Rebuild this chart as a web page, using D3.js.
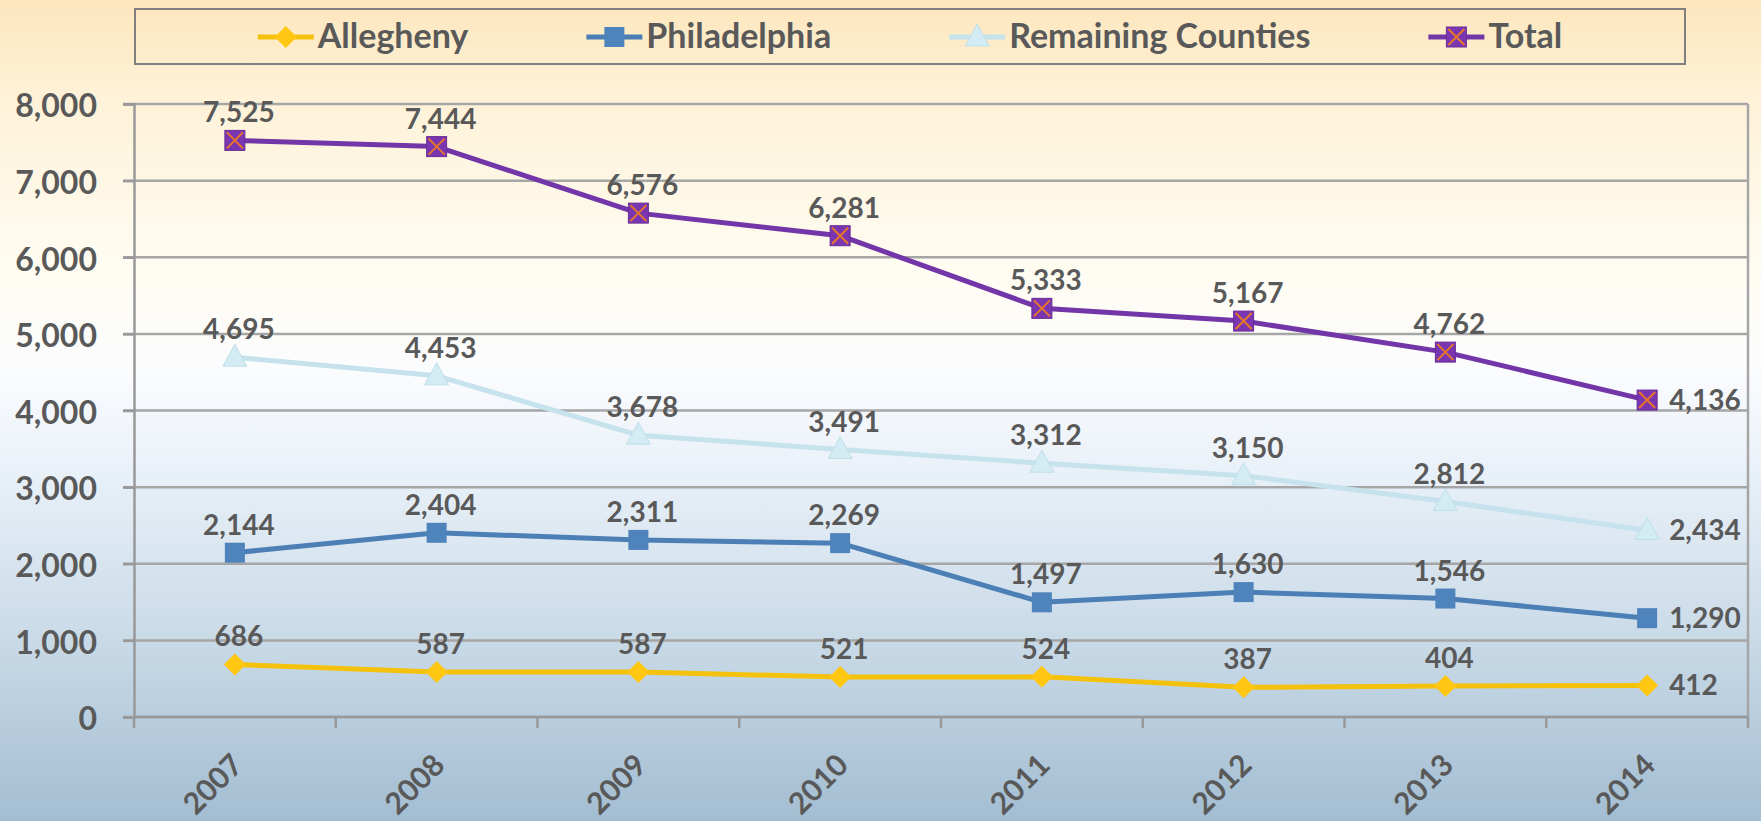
<html>
<head>
<script src="https://cdn.jsdelivr.net/npm/d3@7"></script>
<style>
  body { margin: 0; overflow: hidden; }
  text { font-family: Lato, "Open Sans", sans-serif; font-weight: 700; fill: #595959; }
</style>
</head>
<body>
<script>
// chart data
var years = ["2007", "2008", "2009", "2010", "2011", "2012", "2013", "2014"];
var allegheny = [686, 587, 587, 521, 524, 387, 404, 412];
var philadelphia = [2144, 2404, 2311, 2269, 1497, 1630, 1546, 1290];
var remaining = [4695, 4453, 3678, 3491, 3312, 3150, 2812, 2434];
var total = [7525, 7444, 6576, 6281, 5333, 5167, 4762, 4136];
var yTicks = [0, 1000, 2000, 3000, 4000, 5000, 6000, 7000, 8000];

var seriesNames = ["Allegheny", "Philadelphia", "Remaining Counties", "Total"];

var width = 1761, height = 821;

var svg = d3.select("body").append("svg")
    .attr("width", width)
    .attr("height", height);

// background gradient, cream at the top going to steel blue at the bottom
var defs = svg.append("defs");
var grad = defs.append("linearGradient")
    .attr("id", "bg")
    .attr("x1", 0).attr("y1", 0).attr("x2", 0).attr("y2", 1);
grad.append("stop").attr("offset", "0%").attr("stop-color", "#fde6bd");
grad.append("stop").attr("offset", "12%").attr("stop-color", "#fef2d8");
grad.append("stop").attr("offset", "33%").attr("stop-color", "#fffcf2");
grad.append("stop").attr("offset", "45%").attr("stop-color", "#fbfcfe");
grad.append("stop").attr("offset", "58%").attr("stop-color", "#e8f0f8");
grad.append("stop").attr("offset", "78%").attr("stop-color", "#c9dae7");
grad.append("stop").attr("offset", "100%").attr("stop-color", "#a3bdd2");

svg.append("rect")
    .attr("width", width)
    .attr("height", height)
    .attr("fill", "url(#bg)");

// plot area
var plotLeft = 134, plotRight = 1748, plotTop = 104, plotBottom = 717;

var x = d3.scaleBand().domain(years).range([plotLeft, plotRight]);
var y = d3.scaleLinear().domain([0, 8000]).range([plotBottom, plotTop]);
var cx = function(yr) { return x(yr) + x.bandwidth() / 2; };

// horizontal gridlines
svg.append("g")
    .selectAll("line")
    .data(yTicks)
    .enter().append("line")
    .attr("x1", plotLeft - 11)
    .attr("x2", plotRight)
    .attr("y1", function(d) { return y(d); })
    .attr("y2", function(d) { return y(d); })
    .attr("stroke", "#a6a6a6")
    .attr("stroke-width", 2.5);

// right border of the plot area
svg.append("line")
    .attr("x1", plotRight).attr("x2", plotRight)
    .attr("y1", plotTop).attr("y2", plotBottom)
    .attr("stroke", "#a6a6a6")
    .attr("stroke-width", 2.5);

// y axis
var yAxis = svg.append("g")
    .attr("transform", "translate(" + plotLeft + ",0)")
    .call(d3.axisLeft(y).tickValues(yTicks).tickSize(11).tickPadding(26)
        .tickFormat(d3.format(",")));
yAxis.selectAll("path, line").attr("stroke", "#999999").attr("stroke-width", 2.5);
yAxis.selectAll("text")
    .attr("font-size", 32)
    .attr("dy", "0.4em")
    .attr("fill", "#595959")
    .attr("font-family", "Lato, 'Open Sans', sans-serif")
    .attr("font-weight", 700);

// x axis: ticks sit between the categories
var xAxis = svg.append("g")
    .attr("transform", "translate(0," + plotBottom + ")");
xAxis.append("line")
    .attr("x1", plotLeft).attr("x2", plotRight)
    .attr("stroke", "#999999").attr("stroke-width", 2.5);
xAxis.selectAll(".tk")
    .data(years.concat(["end"]))
    .enter().append("line")
    .attr("class", "tk")
    .attr("x1", function(d, i) { return plotLeft + i * x.bandwidth(); })
    .attr("x2", function(d, i) { return plotLeft + i * x.bandwidth(); })
    .attr("y1", 0).attr("y2", 11)
    .attr("stroke", "#999999").attr("stroke-width", 2.5);
xAxis.selectAll(".yl")
    .data(years)
    .enter().append("text")
    .attr("class", "yl")
    .attr("text-anchor", "end")
    .attr("font-size", 30)
    .attr("transform", function(d) {
        return "translate(" + (cx(d) + 10) + ",50) rotate(-45)";
    })
    .text(function(d) { return d; });

// series styles
var series = [
    { name: seriesNames[0], values: allegheny, color: "#f4c20d", fill: "#ffc711", shape: "diamond" },
    { name: seriesNames[1], values: philadelphia, color: "#4b7fb6", fill: "#4f83bb", shape: "square" },
    { name: seriesNames[2], values: remaining, color: "#c6e2ec", fill: "#d3ebf3", shape: "triangle" },
    { name: seriesNames[3], values: total, color: "#7336a8", fill: "#7a36b0", shape: "xsquare" }
];

function drawMarker(g, s, px, py) {
    if (s.shape === "diamond") {
        g.append("path")
            .attr("d", "M" + px + "," + (py - 11) + "L" + (px + 11) + "," + py +
                "L" + px + "," + (py + 11) + "L" + (px - 11) + "," + py + "Z")
            .attr("fill", s.fill);
    } else if (s.shape === "square") {
        g.append("rect")
            .attr("x", px - 10).attr("y", py - 10)
            .attr("width", 20).attr("height", 20)
            .attr("fill", s.fill);
    } else if (s.shape === "triangle") {
        g.append("path")
            .attr("d", "M" + px + "," + (py - 13) + "L" + (px + 12) + "," + (py + 9) +
                "L" + (px - 12) + "," + (py + 9) + "Z")
            .attr("fill", s.fill)
            .attr("stroke", "#bfdfe9")
            .attr("stroke-width", 1);
    } else {
        g.append("rect")
            .attr("x", px - 10).attr("y", py - 10)
            .attr("width", 20).attr("height", 20)
            .attr("fill", s.fill)
            .attr("stroke", "#6a2c98")
            .attr("stroke-width", 1);
        g.append("path")
            .attr("d", "M" + (px - 8) + "," + (py - 8) + "L" + (px + 8) + "," + (py + 8) +
                "M" + (px + 8) + "," + (py - 8) + "L" + (px - 8) + "," + (py + 8))
            .attr("stroke", "#e8762a")
            .attr("stroke-width", 2);
    }
}

var line = d3.line()
    .x(function(d, i) { return cx(years[i]); })
    .y(function(d) { return y(d); });

series.forEach(function(s) {
    var g = svg.append("g");
    g.append("path")
        .datum(s.values)
        .attr("d", line)
        .attr("fill", "none")
        .attr("stroke", s.color)
        .attr("stroke-width", 5)
        .attr("stroke-linejoin", "round");
    s.values.forEach(function(v, i) {
        drawMarker(g, s, cx(years[i]), y(v));
    });
});

// data labels: above each point, the last one to the right
var fmt = d3.format(",");
series.forEach(function(s) {
    svg.append("g")
        .selectAll("text")
        .data(s.values)
        .enter().append("text")
        .attr("font-size", 28)
        .attr("text-anchor", function(d, i) { return i === years.length - 1 ? "start" : "middle"; })
        .attr("x", function(d, i) {
            return i === years.length - 1 ? cx(years[i]) + 22 : cx(years[i]) + 4;
        })
        .attr("y", function(d, i) {
            return i === years.length - 1 ? y(d) + 10 : y(d) - 18;
        })
        .text(function(d) { return fmt(d); });
});

// legend
var legend = svg.append("g");
legend.append("rect")
    .attr("x", 135).attr("y", 9)
    .attr("width", 1550).attr("height", 55)
    .attr("fill", "none")
    .attr("stroke", "#808080")
    .attr("stroke-width", 2);

var items = legend.selectAll(".item")
    .data(series)
    .enter().append("g")
    .attr("class", "item");

items.each(function(s) {
    var g = d3.select(this);
    g.append("line")
        .attr("x1", 0).attr("x2", 56)
        .attr("y1", 0).attr("y2", 0)
        .attr("stroke", s.color)
        .attr("stroke-width", 5);
    drawMarker(g, s, 28, 0);
    g.append("text")
        .attr("x", 60)
        .attr("y", 11)
        .attr("font-size", 34)
        .text(s.name);
});

// lay out legend items side by side, centred in the box
var gap = 118;
var widths = [];
items.each(function() { widths.push(this.getBBox().width); });
var totalW = d3.sum(widths) + gap * (widths.length - 1);
var pos = 135 + 1550 / 2 - totalW / 2;
items.attr("transform", function(d, i) {
    var t = "translate(" + pos + ",37)";
    pos += widths[i] + gap;
    return t;
});
</script>
</body>
</html>
